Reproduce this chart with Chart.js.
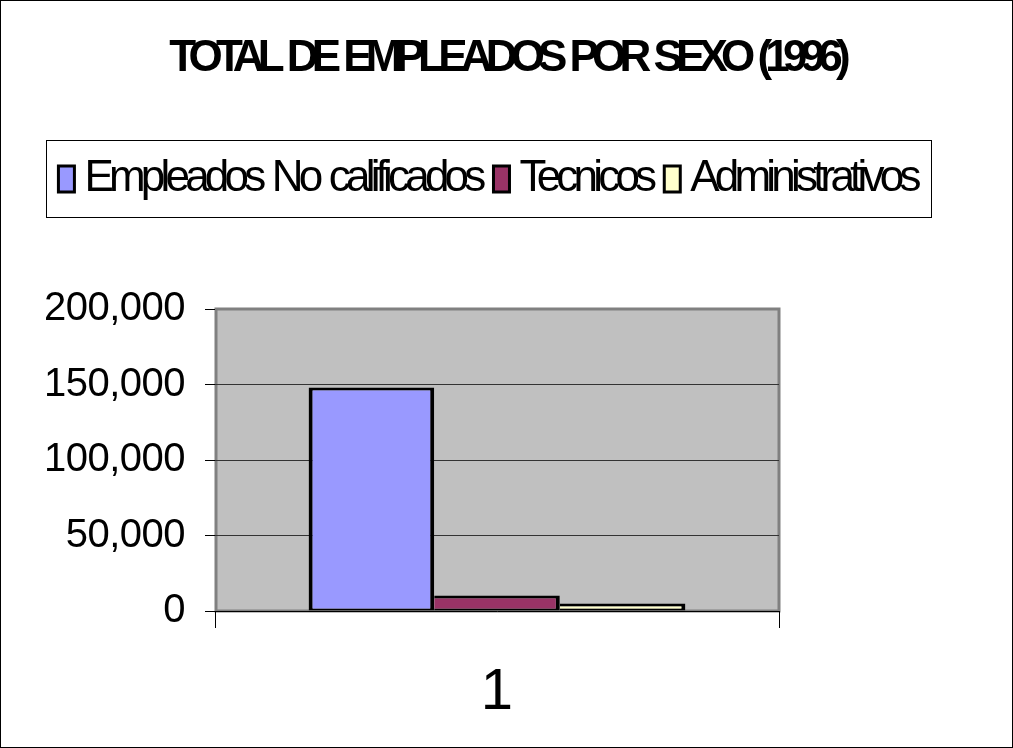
<!DOCTYPE html>
<html>
<head>
<meta charset="utf-8">
<script src="https://cdn.jsdelivr.net/npm/chart.js@4.4.1/dist/chart.umd.min.js"></script>
<style>
html, body { margin: 0; padding: 0; background: #fff; }
canvas { display: block; }
</style>
</head>
<body>
<canvas id="c" width="1013" height="748"></canvas>
<script>
// ---- data ----
const categories = ['1'];
const seriesLabels = ['Empleados No calificados', 'Tecnicos', 'Administrativos'];
const empleadosNoCalificados = [148000];
const tecnicos = [10200];
const administrativos = [5000];
const yTickValues = [0, 50000, 100000, 150000, 200000];
const chartTitle = 'TOTAL DE EMPLEADOS POR SEXO (1996)';

// ---- styles ----
const FONT = "'Liberation Sans', Arial, sans-serif";
const seriesColors = ['#9999FF', '#993366', '#FFFFCC'];
const seriesData = [empleadosNoCalificados, tecnicos, administrativos];
const LEGEND_TEXT_SHIFT = 12;

function textStyled(obj, names, sty) {
  names.forEach(n => {
    const orig = obj[n];
    if (!orig || orig.__sp) return;
    const w = function (...a) {
      const ctx = this.ctx;
      const pl = ctx.letterSpacing, pw = ctx.wordSpacing;
      ctx.letterSpacing = sty.letter || '0px';
      ctx.wordSpacing = sty.word || '0px';
      if (sty.shift) {
        const s = sty.shift;
        ctx.fillText = function (t, x, y, m) {
          const f = CanvasRenderingContext2D.prototype.fillText;
          return m === undefined ? f.call(this, t, x - s, y) : f.call(this, t, x - s, y, m);
        };
      }
      try { return orig.apply(this, a); }
      finally {
        ctx.letterSpacing = pl; ctx.wordSpacing = pw;
        if (sty.shift) delete ctx.fillText;
      }
    };
    w.__sp = true;
    obj[n] = w;
  });
}

function makeSpacer(position, size, weight) {
  const b = {
    position, weight, fullSize: position === 'top',
    options: { stack: undefined, stackWeight: 1 },
    left: 0, top: 0, right: 0, bottom: 0, width: 0, height: 0,
    isHorizontal() { return position === 'top' || position === 'bottom'; },
    update(maxWidth, maxHeight) {
      if (this.isHorizontal()) { this.width = maxWidth; this.height = size; }
      else { this.width = size; this.height = maxHeight; }
    },
    draw() {}
  };
  b._layers = function () { return [{ z: 0, draw() {} }]; };
  return b;
}

const excelPlugin = {
  id: 'excelLook',
  beforeInit(chart) {
    chart.boxes.push(makeSpacer('top', 98, 1));
    chart.boxes.push(makeSpacer('right', 234, 1));
  },
  beforeUpdate(chart) {
    if (chart.titleBlock) textStyled(chart.titleBlock, ['draw'], { letter: '-6.8px', word: '3.5px' });
    if (chart.legend) {
      textStyled(chart.legend, ['fit'], { letter: '-4.8px', word: '3px' });
      textStyled(chart.legend, ['draw'], { letter: '-4.8px', word: '3px', shift: LEGEND_TEXT_SHIFT });
    }
  },
  beforeLayout(chart) {
    if (chart.scales && chart.scales.y) textStyled(chart.scales.y, ['drawLabels'], { letter: '-0.5px' });
  },
  afterLayout(chart) {
    const lg = chart.legend;
    if (lg) { lg.left -= 13; lg.right -= 13; }
  },
  beforeDraw(chart) {
    const ctx = chart.ctx, a = chart.chartArea;
    ctx.save();
    ctx.fillStyle = '#fff';
    ctx.fillRect(0, 0, chart.width, chart.height);
    ctx.strokeStyle = '#000';
    ctx.lineWidth = 1;
    ctx.strokeRect(0.5, 0.5, chart.width - 1, chart.height - 1);
    ctx.fillStyle = '#C0C0C0';
    ctx.fillRect(a.left, a.top, a.right - a.left, a.bottom - a.top);
    ctx.strokeStyle = '#808080';
    ctx.lineWidth = 3;
    ctx.strokeRect(a.left + 1, a.top, a.right - a.left - 1, a.bottom - a.top);
    ctx.restore();
  },
  afterDraw(chart) {
    const lg = chart.legend;
    if (!lg || !lg.lineWidths) return;
    const ctx = chart.ctx;
    const pad = lg.options.labels.padding;
    const startX = (lg.left + pad + lg.right - lg.lineWidths[0]) / 2;
    const endX = startX + lg.lineWidths[0] - pad - LEGEND_TEXT_SHIFT;
    const l = Math.round(startX - 12), r = Math.round(endX + 14);
    const t = Math.round(lg.top) - 17;
    ctx.save();
    ctx.strokeStyle = '#000';
    ctx.lineWidth = 1;
    ctx.strokeRect(l + 0.5, t + 0.5, r - l, 77);
    ctx.restore();
  }
};

new Chart(document.getElementById('c'), {
  type: 'bar',
  data: {
    labels: categories,
    datasets: seriesLabels.map((lab, i) => ({
      label: lab,
      data: seriesData[i],
      backgroundColor: seriesColors[i],
      borderColor: '#000',
      borderWidth: { top: 3, bottom: 2, right: 4, left: i === 0 ? 4 : 0 },
      borderSkipped: false,
      categoryPercentage: 0.668,
      barPercentage: 1
    }))
  },
  options: {
    responsive: false,
    animation: false,
    devicePixelRatio: 1,
    layout: { padding: { left: 0, right: 0, top: 0, bottom: 0 } },
    plugins: {
      title: {
        display: true, text: chartTitle, color: '#000',
        font: { family: FONT, size: 44, weight: 'bold', lineHeight: 1.2 },
        padding: { top: 32, bottom: 72.2 }
      },
      legend: {
        display: true, position: 'top',
        labels: {
          color: '#000', font: { family: FONT, size: 44 },
          boxWidth: 16, boxHeight: 26, padding: 0,
          generateLabels(chart) {
            return chart.data.datasets.map((ds, i) => ({
              text: ds.label, fillStyle: ds.backgroundColor, strokeStyle: '#000',
              lineWidth: 3, hidden: false, datasetIndex: i, fontColor: '#000'
            }));
          }
        }
      },
      tooltip: { enabled: false }
    },
    scales: {
      x: {
        type: 'category', offset: true,
        afterFit: s => { s.height = 137; },
        grid: { display: true, offset: true, drawOnChartArea: false, drawTicks: true, tickLength: 17, color: '#000', lineWidth: 1 },
        border: { display: true, color: '#000', width: 1 },
        ticks: { color: '#000', font: { family: FONT, size: 58 }, padding: 30, maxRotation: 0 }
      },
      y: {
        min: 0, max: 200000,
        afterBuildTicks: s => { s.ticks = yTickValues.map(v => ({ value: v })); },
        afterFit: s => { s.width = 215; },
        grid: {
          color: c => (c.tick && (c.tick.value === 0 || c.tick.value === 200000)) ? 'rgba(0,0,0,0)' : '#333',
          tickColor: '#000', tickLength: 10, lineWidth: 1
        },
        border: { display: false },
        ticks: { color: '#000', font: { family: FONT, size: 40 }, padding: 20, callback: v => Number(v).toLocaleString('en-US') }
      }
    }
  },
  plugins: [excelPlugin]
});
</script>
</body>
</html>
